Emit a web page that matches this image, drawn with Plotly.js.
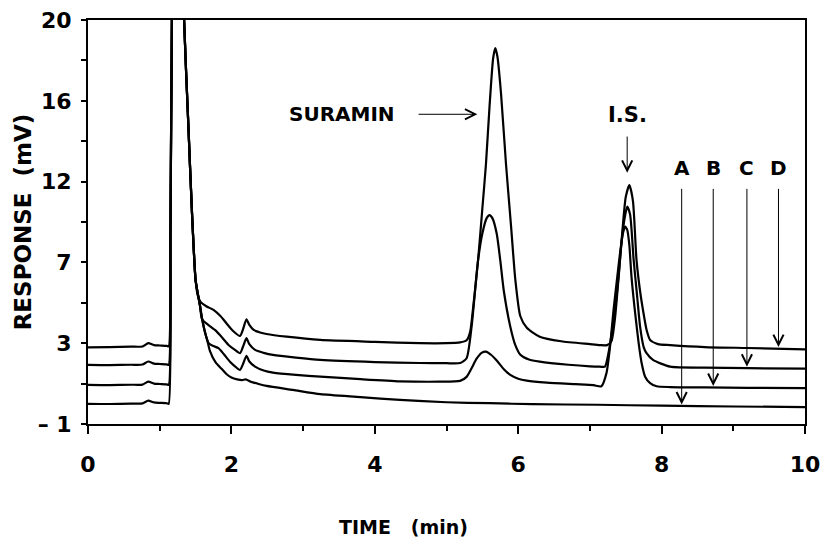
<!DOCTYPE html>
<html>
<head>
<meta charset="utf-8">
<script src="https://cdn.plot.ly/plotly-3.0.1.min.js"></script>
<style>html,body{margin:0;padding:0;background:#fff;}#chart{width:826px;height:545px;}</style>
</head>
<body>
<div id="chart"></div>
<script>
// ---- Data (time in min, response in mV) ----
var timeA = [0, 0.3, 0.6, 0.76, 0.84, 0.92, 1.0, 1.1, 1.125, 1.15, 1.17, 1.21, 1.26, 1.30, 1.34, 1.40, 1.45, 1.50, 1.53, 1.56, 1.59, 1.63, 1.67, 1.70, 1.78, 1.86, 1.93, 2.00, 2.08, 2.15, 2.20, 2.27, 2.38, 2.49, 2.86, 3.24, 3.8, 4.35, 5.0, 5.6, 6.2, 7.1, 8.0, 9.0, 10];
var respA = [0.05, 0.04, 0.06, 0.07, 0.22, 0.12, 0.10, 0.08, 0.05, 9, 20, 29, 32, 27, 20, 14.5, 10, 6.5, 5.8, 5.2, 4.5, 3.8, 3.25, 2.8, 2.2, 1.88, 1.6, 1.42, 1.32, 1.28, 1.32, 1.2, 1.08, 0.98, 0.77, 0.55, 0.4, 0.25, 0.13, 0.08, 0.03, 0.0, -0.05, -0.09, -0.12];

var timeB = [0, 0.3, 0.6, 0.76, 0.84, 0.92, 1.0, 1.1, 1.125, 1.15, 1.17, 1.21, 1.26, 1.30, 1.34, 1.40, 1.45, 1.50, 1.53, 1.56, 1.59, 1.63, 1.68, 1.75, 1.82, 1.90, 1.98, 2.05, 2.12, 2.16, 2.21, 2.25, 2.33, 2.45, 2.58, 2.9, 3.24, 3.8, 4.35, 4.9, 5.19, 5.28, 5.35, 5.42, 5.49, 5.55, 5.62, 5.70, 5.80, 5.89, 6.0, 6.12, 6.4, 6.8, 7.05, 7.16, 7.23, 7.28, 7.33, 7.38, 7.42, 7.46, 7.49, 7.52, 7.55, 7.58, 7.63, 7.68, 7.72, 7.77, 7.84, 7.93, 8.12, 8.6, 9.2, 10];
var respB = [1.03, 1.02, 1.04, 1.05, 1.20, 1.10, 1.08, 1.06, 1.03, 9, 20, 29, 32, 27, 20, 14.5, 10, 6.5, 5.8, 5.2, 4.5, 3.8, 3.22, 3.05, 2.94, 2.6, 2.24, 2.0, 1.81, 2.1, 2.54, 2.25, 1.98, 1.78, 1.67, 1.55, 1.46, 1.33, 1.22, 1.2, 1.24, 1.45, 1.9, 2.4, 2.7, 2.76, 2.6, 2.3, 1.85, 1.55, 1.35, 1.25, 1.15, 1.07, 1.02, 0.96, 1.63, 3.0, 4.93, 6.6, 7.87, 8.9, 9.26, 9.1, 8.3, 6.66, 4.8, 3.2, 2.2, 1.46, 1.12, 0.96, 0.92, 0.9, 0.88, 0.86];

var timeC = [0, 0.3, 0.6, 0.76, 0.84, 0.92, 1.0, 1.1, 1.125, 1.15, 1.17, 1.21, 1.26, 1.30, 1.34, 1.40, 1.45, 1.50, 1.53, 1.56, 1.59, 1.66, 1.77, 1.87, 1.96, 2.05, 2.12, 2.16, 2.21, 2.25, 2.33, 2.45, 2.58, 2.9, 3.24, 4.0, 4.63, 5.0, 5.19, 5.28, 5.35, 5.44, 5.50, 5.56, 5.60, 5.64, 5.70, 5.75, 5.80, 5.89, 5.96, 6.03, 6.15, 6.3, 6.7, 7.0, 7.14, 7.21, 7.26, 7.30, 7.35, 7.40, 7.44, 7.48, 7.52, 7.56, 7.61, 7.66, 7.70, 7.75, 7.79, 7.88, 8.12, 8.6, 9.2, 10];
var respC = [2.07, 2.06, 2.08, 2.09, 2.25, 2.14, 2.12, 2.10, 2.07, 9, 20, 29, 32, 27, 20, 14.5, 10, 6.5, 5.8, 5.2, 4.45, 4.2, 3.89, 3.5, 3.11, 2.85, 2.68, 3.0, 3.46, 3.15, 2.85, 2.7, 2.59, 2.45, 2.33, 2.22, 2.17, 2.16, 2.17, 2.42, 4.06, 7.5, 8.9, 9.7, 9.86, 9.7, 8.9, 7.5, 5.9, 4.06, 3.1, 2.6, 2.35, 2.24, 2.08, 2.0, 1.98, 1.98, 2.7, 3.6, 4.93, 6.7, 8.4, 9.6, 10.3, 9.9, 7.53, 5.6, 4.06, 3.0, 2.68, 2.33, 1.98, 1.93, 1.9, 1.88];

var timeD = [0, 0.3, 0.6, 0.76, 0.84, 0.92, 1.0, 1.1, 1.125, 1.15, 1.17, 1.21, 1.26, 1.30, 1.34, 1.40, 1.45, 1.50, 1.53, 1.57, 1.65, 1.75, 1.85, 1.93, 2.02, 2.12, 2.16, 2.21, 2.25, 2.31, 2.4, 2.49, 2.77, 3.24, 4.0, 4.63, 5.0, 5.19, 5.28, 5.33, 5.37, 5.44, 5.50, 5.55, 5.60, 5.65, 5.68, 5.71, 5.76, 5.83, 5.90, 5.96, 6.03, 6.12, 6.3, 6.6, 7.0, 7.14, 7.24, 7.30, 7.35, 7.40, 7.45, 7.50, 7.55, 7.60, 7.65, 7.70, 7.74, 7.79, 7.84, 7.95, 8.12, 8.6, 9.2, 10];
var respD = [2.98, 3.0, 3.02, 3.03, 3.20, 3.10, 3.08, 3.06, 3.03, 9, 20, 29, 32, 27, 20, 14.5, 10, 6.5, 5.7, 5.35, 5.12, 4.93, 4.6, 4.24, 3.85, 3.58, 3.9, 4.44, 4.15, 3.89, 3.76, 3.68, 3.54, 3.37, 3.27, 3.2, 3.2, 3.24, 3.35, 3.8, 5.0, 7.5, 10.2, 12.5, 15.5, 18.0, 18.54, 18.1, 16.2, 12.5, 9.3, 6.5, 4.6, 4.0, 3.54, 3.3, 3.15, 3.1, 3.1, 3.3, 4.5, 6.6, 8.9, 10.8, 11.42, 10.6, 7.53, 5.9, 4.93, 3.9, 3.37, 3.15, 3.1, 3.0, 2.95, 2.88];

// axis ticks (labels are printed rounded on an evenly spaced scale)
var xTickVals = [0, 2, 4, 6, 8, 10];
var xTickText = ['0', '2', '4', '6', '8', '10'];
var yTickVals = [-1, 3.2, 7.4, 11.6, 15.8, 20];
var yTickText = ['\u2013 1', '3', '7', '12', '16', '20'];
var yMinorVals = [1.1, 5.3, 9.5, 13.7, 17.9];

// labels
var xTitle = 'TIME\u00a0\u00a0\u00a0(min)';
var yTitle = 'RESPONSE\u00a0\u00a0(mV)';
var curveLabels = ['A', 'B', 'C', 'D'];
var curveArrowX = [8.28, 8.72, 9.19, 9.63];
var curveArrowTipY = [0.02, 0.98, 1.98, 3.0];
var peakLabels = ['SURAMIN', 'I.S.'];

var FONT = 'DejaVu Sans, Liberation Sans, Arial, sans-serif';

function trace(x, y) {
  return {x: x, y: y, type: 'scatter', mode: 'lines',
    line: {color: '#000', width: 2.2, shape: 'spline', smoothing: 0.6},
    hoverinfo: 'skip', showlegend: false};
}
var data = [trace(timeA, respA), trace(timeB, respB), trace(timeC, respC), trace(timeD, respD)];

var annotations = [];
function label(text, x, y, size) {
  annotations.push({x: x, y: y, xref: 'x', yref: 'y', text: text, showarrow: false,
    font: {family: FONT, size: size || 20, color: '#000', weight: 700}, xanchor: 'center', yanchor: 'middle'});
}
function arrow(x, y, ax, ay) {
  annotations.push({x: x, y: y, ax: ax, ay: ay, xref: 'x', yref: 'y', axref: 'x', ayref: 'y',
    text: '', showarrow: true, arrowhead: 5, arrowsize: 2, arrowwidth: 1, arrowcolor: '#000',
    standoff: 0, startstandoff: 0});
}
// SURAMIN
label(peakLabels[0], 3.54, 15.1, 20);
arrow(5.43, 15.1, 4.59, 15.1);
// I.S.
label(peakLabels[1], 7.53, 15.05, 21);
arrow(7.52, 12.06, 7.52, 14.02);
// A-D
for (var i = 0; i < curveLabels.length; i++) {
  label(curveLabels[i], curveArrowX[i], 12.3, 20);
  arrow(curveArrowX[i], curveArrowTipY[i], curveArrowX[i], 11.3);
}
// x-axis title (offset left of the plot centre, as in the original figure)
annotations.push({x: 4.4, y: -0.255, xref: 'x', yref: 'paper', text: xTitle, showarrow: false,
  font: {family: FONT, size: 19, color: '#000', weight: 700}, xanchor: 'center', yanchor: 'middle'});

var layout = {
  width: 826, height: 545,
  margin: {l: 88, r: 21, t: 20, b: 121},
  paper_bgcolor: '#fff', plot_bgcolor: '#fff',
  showlegend: false,
  font: {family: FONT, color: '#000'},
  xaxis: {
    range: [0, 10], tickmode: 'array', tickvals: xTickVals, ticktext: xTickText,
    ticks: 'outside', ticklen: 8, tickwidth: 2, tickcolor: '#000',
    showline: true, linewidth: 2, linecolor: '#000', mirror: true,
    showgrid: false, zeroline: false, ticklabelstandoff: 12,
    tickfont: {family: FONT, size: 22, color: '#000', weight: 700},
    minor: {tickmode: 'linear', tick0: 0, dtick: 1, ticks: 'outside', ticklen: 5, tickwidth: 2, tickcolor: '#000', showgrid: false},
    automargin: false, fixedrange: true
  },
  yaxis: {
    range: [-1, 20], tickmode: 'array', tickvals: yTickVals, ticktext: yTickText,
    ticks: 'outside', ticklen: 5, tickwidth: 2, tickcolor: '#000',
    showline: true, linewidth: 2, linecolor: '#000', mirror: true,
    showgrid: false, zeroline: false, ticklabelstandoff: 5,
    tickfont: {family: FONT, size: 22, color: '#000', weight: 700},
    minor: {tickmode: 'array', tickvals: yMinorVals, ticks: 'outside', ticklen: 5, tickwidth: 2, tickcolor: '#000', showgrid: false},
    title: {text: yTitle, font: {family: FONT, size: 23, color: '#000', weight: 700}},
    automargin: false, fixedrange: true
  },
  annotations: annotations
};

Plotly.newPlot('chart', data, layout, {displayModeBar: false, staticPlot: true});
</script>
</body>
</html>
